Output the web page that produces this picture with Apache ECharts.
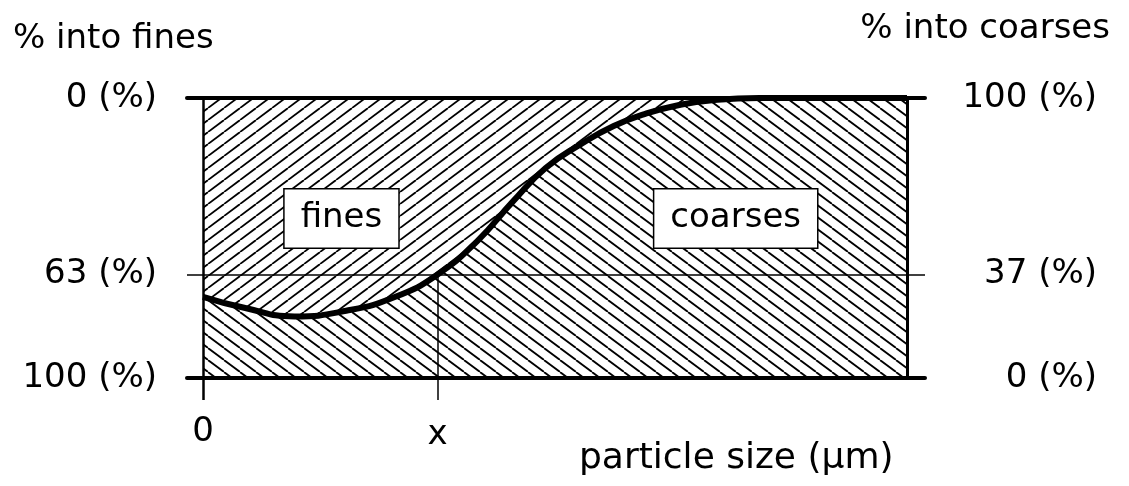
<!DOCTYPE html>
<html>
<head>
<meta charset="utf-8">
<script src="https://cdn.jsdelivr.net/npm/echarts@6/dist/echarts.min.js"></script>
<style>html,body{margin:0;padding:0;background:#fff}#c{width:1129px;height:486px}</style>
</head>
<body>
<div id="c"></div>
<script>
// ---- data ----
const particleSize = [0, 0.18, 0.39, 0.61, 0.82, 1.0, 1.17, 1.32, 1.46, 1.61, 1.75, 1.89, 2.03, 2.17, 2.37, 2.6, 3.0];
const intoFinesPct = [71, 75, 78, 76, 71, 63, 51, 37, 25, 16.5, 10, 5.5, 2.5, 0.8, 0, 0, 0];
const finesTicks = [0, 63, 100];
const coarsesTicks = [100, 37, 0];
const xTickValues = [0, 1];
const xTickLabels = ['0', 'x'];
const regionNames = ['fines', 'coarses'];
const cutSize = 1;      // "x"
const cutFines = 63;    // 63 % into fines at x
const sizeMax = 3;

// ---- presentation ----
const FONT = 'DejaVu Sans';
const XMIN = -0.0682, XMAX = 3.0767;
const regionAnchors = [[0.59, 43], [2.27, 43]];

function hatch(dir) {
  const w = 16, h = 12;
  const c = document.createElement('canvas');
  c.width = w; c.height = h;
  const g = c.getContext('2d');
  g.strokeStyle = '#000';
  g.lineWidth = 1.8;
  for (const o of [-w, 0, w]) {
    g.beginPath();
    if (dir === '/') { g.moveTo(o, h); g.lineTo(o + w, 0); }
    else { g.moveTo(o, 0); g.lineTo(o + w, h); }
    g.stroke();
  }
  return c;
}

const curve = particleSize.map((x, i) => [x, intoFinesPct[i]]);
const txt = (size) => ({ color: '#000', fontFamily: FONT, fontSize: size, fontWeight: 'normal' });

const chart = echarts.init(document.getElementById('c'), null, { renderer: 'canvas' });
chart.setOption({
  animation: false,
  backgroundColor: '#fff',
  title: [
    { text: '% into fines', left: 8, top: 17, textStyle: txt(34) },
    { text: '% into coarses', right: 14, top: 7, textStyle: txt(34) },
    { text: 'particle size (μm)', left: 574, top: 436, textStyle: txt(36) }
  ],
  grid: { left: 187, right: 204, top: 98, bottom: 108, containLabel: false },
  xAxis: [
    {
      type: 'value', min: XMIN, max: XMAX, position: 'bottom',
      axisLine: { show: true, onZero: false, lineStyle: { color: '#000', width: 4 } },
      axisTick: { show: true, customValues: [xTickValues[0]], length: 22, inside: false, lineStyle: { color: '#000', width: 2.5 } },
      axisLabel: Object.assign({ show: true, customValues: [xTickValues[0]], margin: 37, formatter: () => xTickLabels[0] }, txt(34)),
      splitLine: { show: false }
    },
    {
      type: 'value', min: XMIN, max: XMAX, position: 'bottom',
      axisLine: { show: false, onZero: false },
      axisTick: { show: true, customValues: [xTickValues[1]], length: 22, inside: false, lineStyle: { color: '#000', width: 1.5 } },
      axisLabel: Object.assign({ show: true, customValues: [xTickValues[1]], margin: 40, formatter: () => xTickLabels[1] }, txt(34)),
      splitLine: { show: false }
    },
    {
      type: 'value', min: XMIN, max: XMAX, position: 'top',
      axisLine: { show: true, onZero: false, lineStyle: { color: '#000', width: 4 } },
      axisTick: { show: false }, axisLabel: { show: false }, splitLine: { show: false }
    }
  ],
  yAxis: [
    {
      type: 'value', min: 0, max: 100, inverse: true, position: 'left',
      axisLine: { show: false, onZero: false }, axisTick: { show: false }, splitLine: { show: false },
      axisLabel: Object.assign({ customValues: finesTicks, margin: 30, formatter: v => v + ' (%)' }, txt(34))
    },
    {
      type: 'value', min: 0, max: 100, position: 'right',
      axisLine: { show: false, onZero: false }, axisTick: { show: false }, splitLine: { show: false },
      axisLabel: Object.assign({ customValues: coarsesTicks, margin: 172, align: 'right', formatter: v => v + ' (%)' }, txt(34))
    }
  ],
  series: [
    {
      name: 'fines', type: 'line', data: curve, smooth: 0.5,
      symbol: 'none', silent: true, z: 1,
      lineStyle: { width: 0, opacity: 0 },
      areaStyle: { origin: 'start', opacity: 1, color: { image: hatch('/'), repeat: 'repeat' } }
    },
    {
      name: 'coarses', type: 'line', data: curve, smooth: 0.5,
      symbol: 'none', silent: true, z: 3,
      lineStyle: { color: '#000', width: 6 },
      areaStyle: { origin: 'end', opacity: 1, color: { image: hatch('\\'), repeat: 'repeat' } },
      markLine: {
        silent: true, symbol: ['none', 'none'], label: { show: false },
        lineStyle: { color: '#000', type: 'solid' },
        data: [
          { xAxis: 0, lineStyle: { width: 2.5, color: '#000', type: 'solid' } },
          { xAxis: sizeMax, lineStyle: { width: 3, color: '#000', type: 'solid' } },
          { yAxis: cutFines, lineStyle: { width: 1.5, color: '#000', type: 'solid' } },
          [{ coord: [cutSize, cutFines], lineStyle: { width: 1.5, color: '#000', type: 'solid' } }, { coord: [cutSize, 100] }]
        ]
      }
    },
    {
      type: 'scatter', silent: true, z: 10,
      symbol: 'rect', symbolSize: 1, itemStyle: { color: 'rgba(0,0,0,0)', opacity: 1 },
      data: regionNames.map((n, i) => ({ name: n, value: regionAnchors[i] })),
      label: Object.assign({
        show: true, position: 'inside', formatter: '{b}', lineHeight: 36, opacity: 1,
        backgroundColor: '#fff', borderColor: '#000', borderWidth: 1.5, padding: [11, 16]
      }, txt(34))
    }
  ]
});
</script>
</body>
</html>
